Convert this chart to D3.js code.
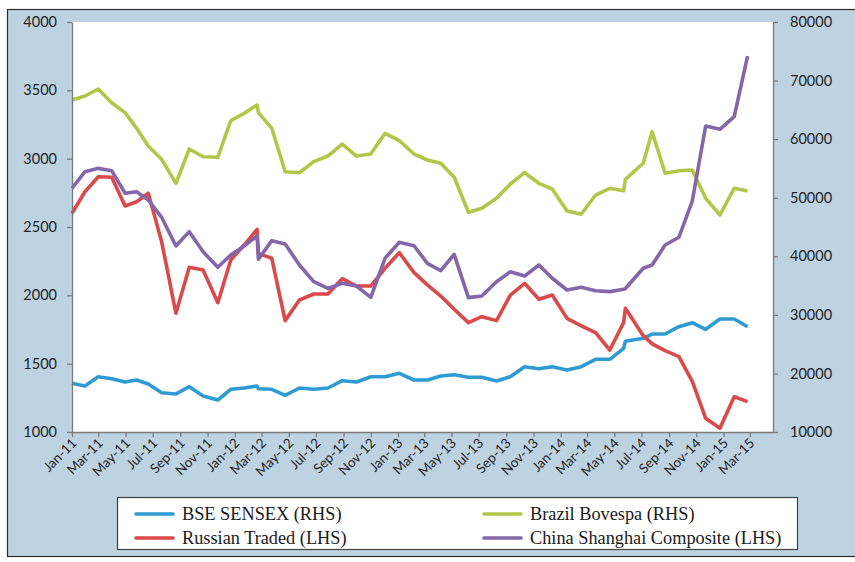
<!DOCTYPE html>
<html>
<head>
<meta charset="utf-8">
<script src="https://cdn.jsdelivr.net/npm/d3@7"></script>
<style>
  body { margin: 0; background: #fff; }
  svg { display: block; }
</style>
</head>
<body>
<div id="chart"></div>
<script>
// Data
const dates = [
  "2011-01-01", "2011-01-30", "2011-03-01", "2011-03-31", "2011-04-30", "2011-05-26",
  "2011-06-21", "2011-07-21", "2011-08-22", "2011-09-21", "2011-10-22", "2011-11-24",
  "2011-12-23", "2012-01-22", "2012-02-20", "2012-02-23", "2012-03-24", "2012-04-23",
  "2012-05-25", "2012-06-26", "2012-07-28", "2012-08-29", "2012-09-30", "2012-11-01",
  "2012-12-03", "2013-01-04", "2013-02-06", "2013-03-08", "2013-04-07", "2013-05-07",
  "2013-06-08", "2013-07-08", "2013-08-10", "2013-09-10", "2013-10-12", "2013-11-13",
  "2013-12-13", "2014-01-15", "2014-02-16", "2014-03-20", "2014-04-21", "2014-05-22",
  "2014-05-26", "2014-07-05", "2014-07-25", "2014-08-23", "2014-09-23", "2014-10-23",
  "2014-11-22", "2014-12-24", "2015-01-25", "2015-02-24"
];

// right hand side
const bseSensex = [
  18315, 17853, 19440, 19100, 18537, 18878, 18195, 16710, 16488, 17735, 16146, 15463,
  17290, 17512, 17853, 17393, 17290, 16266, 17512, 17290, 17512, 18758, 18537, 19440,
  19440, 20020, 18878, 18878, 19560, 19780, 19340, 19340, 18707, 19440, 21150, 20810,
  21150, 20585, 21150, 22410, 22410, 24290, 25500, 26000, 26730, 26730, 27980, 28660,
  27530, 29290, 29290, 27980
];
const brazilBovespa = [
  66680, 67365, 68560, 66220, 64520, 61850, 58830, 56560, 52460, 58320, 57000, 56900,
  63150, 64400, 65830, 64520, 61850, 54440, 54270, 56150, 57120, 59170, 57120, 57460,
  61000, 59740, 57460, 56440, 55880, 53490, 47510, 48200, 49900, 52340, 54270, 52460,
  51490, 47730, 47170, 50460, 51600, 51200, 53140, 55880, 61270, 54170, 54610, 54730,
  49900, 47050, 51600, 51150
];

// left hand side
const russianTraded = [
  2600, 2758, 2868, 2864, 2654, 2685, 2747, 2393, 1869, 2205, 2185, 1946,
  2259, 2368, 2483, 2307, 2271, 1815, 1966, 2010, 2010, 2122, 2068, 2068,
  2198, 2312, 2166, 2076, 1995, 1898, 1800, 1844, 1815, 2002, 2088, 1971,
  2002, 1832, 1776, 1727, 1600, 1800, 1905, 1705, 1645, 1595, 1551, 1370,
  1100, 1027, 1258, 1222
];
const chinaShanghai = [
  2783, 2905, 2929, 2912, 2747, 2758, 2698, 2571, 2361, 2466, 2319, 2205,
  2295, 2361, 2434, 2264, 2400, 2376, 2222, 2100, 2051, 2088, 2068, 1985,
  2271, 2388, 2363, 2234, 2180, 2300, 1983, 1995, 2100, 2173, 2141, 2222,
  2125, 2039, 2059, 2034, 2027, 2044, 2050, 2198, 2222, 2368, 2425, 2690,
  3239, 3215, 3307, 3751
];

const leftTicks = [1000, 1500, 2000, 2500, 3000, 3500, 4000];
const rightTicks = [10000, 20000, 30000, 40000, 50000, 60000, 70000, 80000];

const legendItems = [
  { name: "BSE SENSEX (RHS)", color: "#2f9bd3" },
  { name: "Brazil Bovespa (RHS)", color: "#b3c64a" },
  { name: "Russian Traded (LHS)", color: "#d94a4a" },
  { name: "China Shanghai Composite (LHS)", color: "#8466ab" }
];

// Basic set up
const W = 855, H = 562;
const plot = { left: 72, right: 773, top: 22, bottom: 432 };

const svg = d3.select("#chart")
  .append("svg")
    .attr("width", W)
    .attr("height", H);

// outer panel
svg.append("rect")
  .attr("x", 7.5).attr("y", 9.5)
  .attr("width", 852).attr("height", 547)
  .attr("fill", "#bed3e2")
  .attr("stroke", "#2b2b2b")
  .attr("stroke-width", 1.2);

// plot area
svg.append("rect")
  .attr("x", plot.left).attr("y", plot.top)
  .attr("width", plot.right - plot.left).attr("height", plot.bottom - plot.top)
  .attr("fill", "#ffffff");

const parse = d3.utcParse("%Y-%m-%d");
const points = dates.map(parse);

let x = d3.scaleUtc()
  .domain([parse("2011-01-01"), parse("2015-04-22")])
  .range([plot.left, plot.right]);
let yLeft = d3.scaleLinear().domain([1000, 4000]).range([plot.bottom, plot.top]);
let yRight = d3.scaleLinear().domain([10000, 80000]).range([plot.bottom, plot.top]);

// Lines
function drawLine(values, y, color) {
  const line = d3.line()
    .x((d, i) => x(points[i]))
    .y(d => y(d));
  svg.append("path")
    .datum(values)
    .attr("fill", "none")
    .attr("stroke", color)
    .attr("stroke-width", 3.6)
    .attr("stroke-linejoin", "round")
    .attr("d", line);
}

drawLine(bseSensex, yRight, legendItems[0].color);
drawLine(brazilBovespa, yRight, legendItems[1].color);
drawLine(russianTraded, yLeft, legendItems[2].color);
drawLine(chinaShanghai, yLeft, legendItems[3].color);

// Axes
const tickFont = "Lato, 'Open Sans', sans-serif";

function styleAxis(g) {
  g.select(".domain").attr("stroke", "#7a7a7a").attr("stroke-width", 1.3);
  g.selectAll(".tick line").attr("stroke", "#7a7a7a").attr("stroke-width", 1.3);
  g.selectAll(".tick text")
    .attr("fill", "#222")
    .style("font-family", tickFont)
    .style("font-size", "14.5px");
}

// Left axis
svg.append("g")
  .attr("transform", "translate(" + plot.left + ",0)")
  .call(d3.axisLeft(yLeft).tickValues(leftTicks).tickFormat(d3.format("d"))
    .tickSize(5).tickSizeOuter(0).tickPadding(10))
  .call(styleAxis);

// Right axis
svg.append("g")
  .attr("transform", "translate(" + plot.right + ",0)")
  .call(d3.axisRight(yRight).tickValues(rightTicks).tickFormat(d3.format("d"))
    .tickSize(5).tickSizeOuter(0).tickPadding(12))
  .call(styleAxis);

// X axis
const monthTicks = d3.utcMonth.range(parse("2011-01-01"), parse("2015-03-02"), 2);
const xAxis = svg.append("g")
  .attr("transform", "translate(0," + plot.bottom + ")")
  .call(d3.axisBottom(x).tickValues(monthTicks).tickFormat(d3.utcFormat("%b-%y"))
    .tickSize(5).tickSizeOuter(0))
  .call(styleAxis);

xAxis.selectAll(".tick text")
  .style("font-size", "13.5px")
  .attr("text-anchor", "end")
  .attr("dy", null)
  .attr("y", 0)
  .attr("transform", "translate(5,12) rotate(-45)");

// Legend
const legend = svg.append("g");
legend.append("rect")
  .attr("x", 117.5).attr("y", 497.5)
  .attr("width", 680).attr("height", 52)
  .attr("fill", "#ffffff")
  .attr("stroke", "#404040")
  .attr("stroke-width", 1.2);

const cols = [136, 484];
const rows = [514, 538];
legendItems.forEach((item, i) => {
  const cx = cols[i % 2], cy = rows[Math.floor(i / 2)];
  legend.append("line")
    .attr("x1", cx).attr("x2", cx + 37)
    .attr("y1", cy).attr("y2", cy)
    .attr("stroke", item.color)
    .attr("stroke-width", 3.6)
    .attr("stroke-linecap", "round");
  legend.append("text")
    .attr("x", cx + 46)
    .attr("y", cy + 6)
    .attr("fill", "#1a1a1a")
    .style("font-family", "'Liberation Serif', 'DejaVu Serif', serif")
    .style("font-size", "18.3px")
    .text(item.name);
});
</script>
</body>
</html>
